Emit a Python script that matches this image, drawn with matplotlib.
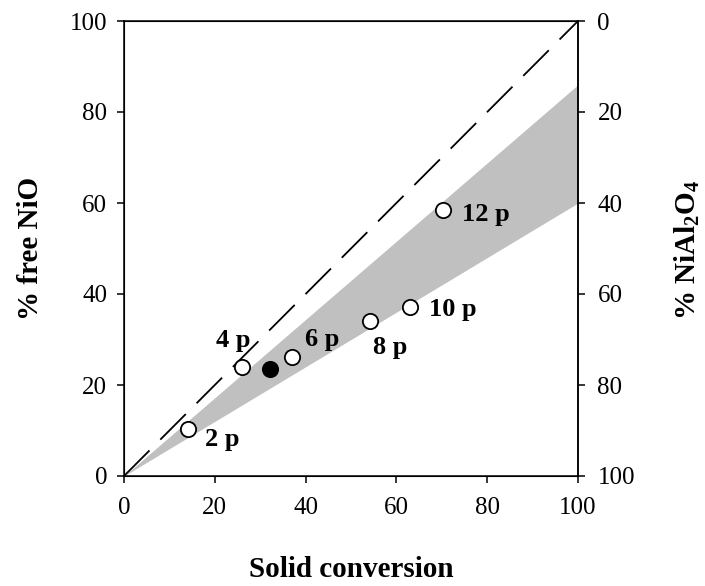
import matplotlib
matplotlib.use("Agg")
import matplotlib.pyplot as plt

plt.rcParams['font.family'] = ['Liberation Serif', 'DejaVu Serif']
plt.rcParams['mathtext.fontset'] = 'custom'
plt.rcParams['mathtext.rm'] = 'Liberation Serif'
plt.rcParams['mathtext.bf'] = 'Liberation Serif:bold'
plt.rcParams['lines.scale_dashes'] = False

# samples: solid conversion vs. free NiO
labels = ['2 p', '4 p', '6 p', '8 p', '10 p', '12 p']
conv = [14.2, 26.1, 37.1, 54.1, 63.1, 70.2]
free_nio = [10.3, 24.0, 26.1, 34.1, 37.1, 58.5]

# the single filled reference point
ref_conv = [32.2]
ref_nio = [23.5]

# shaded band between two limiting lines
band_x = [0, 100]
band_low = [0, 60]
band_high = [0, 86]

# label offsets in pixels (left edge, baseline)
offsets = [(17, -17), (-26, 20), (13, 11), (3, -33), (19, -9), (19, -11)]

W, H = 705, 586
fig = plt.figure(figsize=(W / 100, H / 100), dpi=100)
ax = fig.add_axes([124 / W, 1 - 476 / H, 454 / W, 455 / H])

ax.fill_between(band_x, band_low, band_high, color='#c0c0c0', lw=0, zorder=1)
ax.plot([0, 100], [0, 100], color='black', lw=1.3, dashes=(26, 11), zorder=2)

ax.plot(conv, free_nio, 'o', ms=11, mfc='white', mec='black', mew=1.3, zorder=3)
ax.plot(ref_conv, ref_nio, 'o', ms=11, mfc='black', mec='black', mew=1.3, zorder=3)

for lab, x, y, off in zip(labels, conv, free_nio, offsets):
    ax.annotate(lab, (x, y), xytext=off, textcoords='offset pixels',
                ha='left', va='baseline', fontsize=19, fontweight='bold')

ax.set_xlim(0, 100)
ax.set_ylim(0, 100)
ax.set_xticks(range(0, 101, 20))
ax.set_yticks(range(0, 101, 20))
for s in ['top', 'right', 'left', 'bottom']:
    ax.spines[s].set_linewidth(1.1)
ax.tick_params(direction='out', length=5, width=1.1, labelsize=18)
ax.tick_params(axis='x', pad=10)
ax.tick_params(axis='y', pad=7)

ax2 = ax.twinx()
ax2.set_ylim(100, 0)
ax2.set_yticks(range(0, 101, 20))
ax2.spines['right'].set_linewidth(1.1)
ax2.tick_params(direction='out', length=5, width=1.1, labelsize=18, pad=9)

# axis titles placed by pixel position
fig.text(351 / W, 1 - 577 / H, 'Solid conversion', ha='center', va='baseline',
         fontsize=21, fontweight='bold')
fig.text(30 / W, 1 - 248 / H, '% free NiO', ha='center', va='center',
         rotation=90, fontsize=21, fontweight='bold')
fig.text(687 / W, 1 - 250 / H, r'% NiAl$_\mathbf{2}$O$_\mathbf{4}$', ha='center',
         va='center', rotation=90, fontsize=21, fontweight='bold')

fig.savefig('out.png', dpi=100)
